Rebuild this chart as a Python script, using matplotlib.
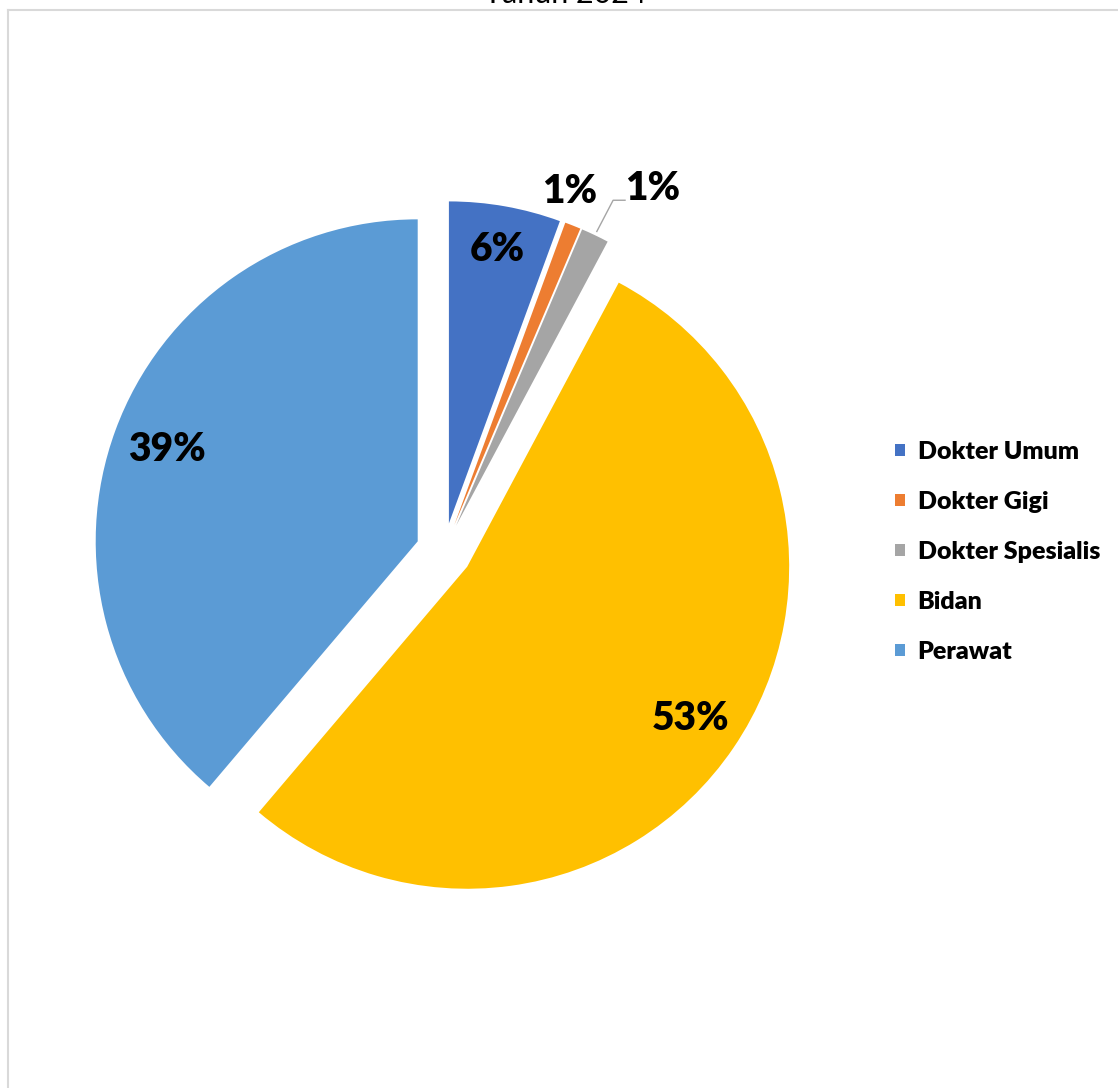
import matplotlib
matplotlib.use("Agg")
import matplotlib.pyplot as plt
import numpy as np
from matplotlib.patches import Patch
from matplotlib.lines import Line2D

# ---- data ----
categories = ["Dokter Umum", "Dokter Gigi", "Dokter Spesialis", "Bidan", "Perawat"]
shares = [5.6, 0.8, 1.4, 53.4, 38.8]
colors = ["#4472C4", "#ED7D31", "#A5A5A5", "#FFC000", "#5B9BD5"]
title = "Tahun 2024"

W, H = 1118, 1088
fig = plt.figure(figsize=(W / 100, H / 100), dpi=100)

# pie axes placed so that 1 data unit = R pixels
cx, cy, R = 444, 551, 322
L = 1.35
half = L * R
ax = fig.add_axes([(cx - half) / W, (H - cy - half) / H, 2 * half / W, 2 * half / H])
wedges, texts, autotexts = ax.pie(
    shares, colors=colors, startangle=90, counterclock=False,
    explode=[0.087] * len(shares), autopct="%.0f%%",
    wedgeprops=dict(linewidth=0),
    textprops=dict(fontfamily="Lato", fontweight="heavy", fontsize=28, color="black"),
)
ax.set_xlim(-L, L)
ax.set_ylim(-L, L)
ax.set_aspect("equal")
ax.axis("off")

# label placement (distance from centre, angular shift in degrees)
label_r = [0.952, 1.184, 1.30, 0.927, 0.915]
label_shift = [0, 2.3, -4.4, 0, 0]
for w, t, r, s in zip(wedges, autotexts, label_r, label_shift):
    mid = np.deg2rad((w.theta1 + w.theta2) / 2 + s)
    t.set_position((r * np.cos(mid), r * np.sin(mid)))

# leader line for the small grey slice
w = wedges[2]
mid = np.deg2rad((w.theta1 + w.theta2) / 2)
p0 = (1.10 * np.cos(mid), 1.10 * np.sin(mid))
lx, ly = autotexts[2].get_position()
ax.plot([p0[0], lx - 0.124, lx - 0.087], [p0[1], ly - 0.037, ly - 0.037],
        color="#A5A5A5", lw=1)

# legend
handles = [Patch(facecolor=c, edgecolor="none") for c in colors]
fig.legend(handles, categories, loc="center left",
           bbox_to_anchor=(895 / W, 1 - 552 / H), frameon=False,
           prop=dict(family="Lato", weight="heavy", size=18),
           handlelength=0.4, handleheight=0.4, handletextpad=0.5,
           labelspacing=1.12, borderpad=0, borderaxespad=0)

# chart-area border (partially visible)
fig.add_artist(Line2D([8 / W, 8 / W], [0, 1 - 9.5 / H], transform=fig.transFigure,
                      color="#D9D9D9", lw=1.5))
fig.add_artist(Line2D([8 / W, 1], [1 - 9.5 / H, 1 - 9.5 / H], transform=fig.transFigure,
                      color="#D9D9D9", lw=1.5))

# title (cut off at the top in the original)
fig.text(565 / W, 1 - 3 / H, title, ha="center", va="baseline",
         fontsize=22, family="Lato", color="black")

fig.savefig("out.png", dpi=100, facecolor="white")
